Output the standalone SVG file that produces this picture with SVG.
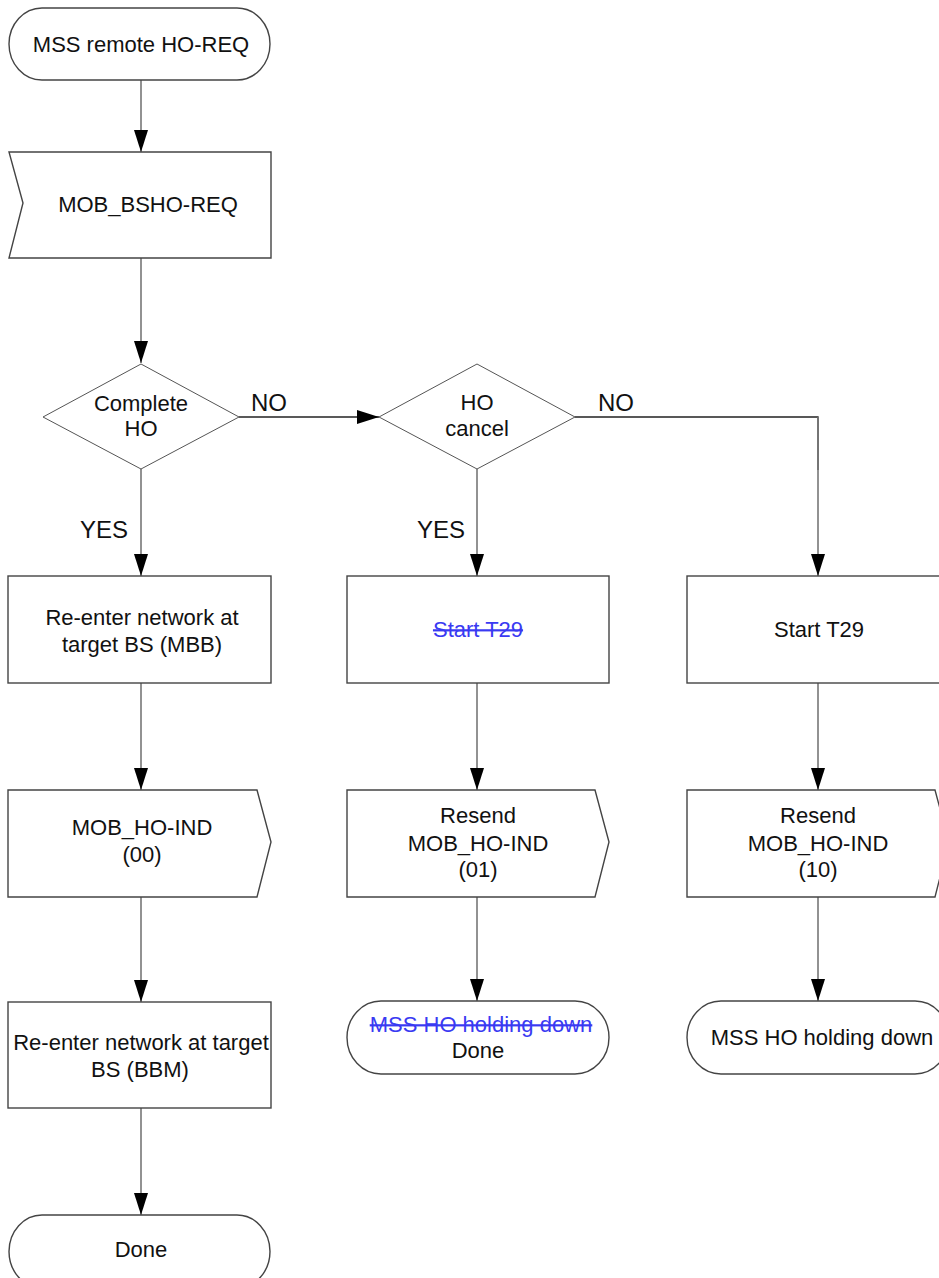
<svg xmlns="http://www.w3.org/2000/svg" width="939" height="1278" viewBox="0 0 939 1278">
<defs>
<style>
.shape{fill:#fff;stroke:#444;stroke-width:1.4}
.dia{fill:#fff;stroke:#555;stroke-width:1}
.conn{fill:none;stroke:#777;stroke-width:1.6}
.hconn{fill:none;stroke:#222;stroke-width:1.3}
text{font-family:"Liberation Sans",Arial,sans-serif;font-size:22px;fill:#111;text-anchor:middle}
.lbl{font-size:24px;text-anchor:start}
.del{fill:#3a3af2;text-decoration:line-through}
</style>
<marker id="ah" markerWidth="22" markerHeight="14" refX="22" refY="7" orient="auto" markerUnits="userSpaceOnUse">
<path d="M0,0 L22,7 L0,14 Z" fill="#000"/>
</marker>
</defs>
<rect width="939" height="1278" fill="#fff"/>

<g id="connectors">
<line class="conn" x1="141" y1="80" x2="141" y2="152" marker-end="url(#ah)"/>
<line class="conn" x1="141" y1="258" x2="141" y2="363" marker-end="url(#ah)"/>
<line class="hconn" x1="239" y1="417" x2="379" y2="417" marker-end="url(#ah)"/>
<polyline class="hconn" points="575,417 818,417 818,470"/>
<line class="conn" x1="818" y1="417" x2="818" y2="576" marker-end="url(#ah)"/>
<line class="conn" x1="141" y1="469" x2="141" y2="576" marker-end="url(#ah)"/>
<line class="conn" x1="477" y1="469" x2="477" y2="576" marker-end="url(#ah)"/>
<line class="conn" x1="141" y1="683" x2="141" y2="790" marker-end="url(#ah)"/>
<line class="conn" x1="477" y1="683" x2="477" y2="790" marker-end="url(#ah)"/>
<line class="conn" x1="818" y1="683" x2="818" y2="790" marker-end="url(#ah)"/>
<line class="conn" x1="141" y1="897" x2="141" y2="1002" marker-end="url(#ah)"/>
<line class="conn" x1="477" y1="897" x2="477" y2="1001" marker-end="url(#ah)"/>
<line class="conn" x1="818" y1="897" x2="818" y2="1001" marker-end="url(#ah)"/>
<line class="conn" x1="141" y1="1108" x2="141" y2="1215" marker-end="url(#ah)"/>
<text class="lbl" x="251" y="411">NO</text>
<text class="lbl" x="598" y="411">NO</text>
<text class="lbl" x="80" y="538">YES</text>
<text class="lbl" x="417" y="538">YES</text>
</g>

<g id="start">
<path class="shape" d="M42,8 H237 A33,36 0 0 1 270,44 A33,36 0 0 1 237,80 H42 A33,36 0 0 1 9,44 A33,36 0 0 1 42,8 Z"/>
<text x="141" y="52">MSS remote HO-REQ</text>
</g>

<g id="bsho-req">
<path class="shape" d="M9,152 H271 V258 H9 L23,203 Z"/>
<text x="148" y="212">MOB_BSHO-REQ</text>
</g>

<g id="complete-ho">
<polygon class="dia" points="141,364 239,417 141,469 43,417"/>
<text x="141" y="411">Complete</text>
<text x="141" y="436">HO</text>
</g>

<g id="ho-cancel">
<polygon class="dia" points="477,364 575,417 477,469 379,417"/>
<text x="477" y="410">HO</text>
<text x="477" y="436">cancel</text>
</g>

<g id="reenter-mbb">
<rect class="shape" x="8" y="576" width="263" height="107"/>
<text x="142" y="625">Re-enter network at</text>
<text x="142" y="652">target BS (MBB)</text>
</g>

<g id="start-t29-deleted">
<rect class="shape" x="347" y="576" width="262" height="107"/>
<text class="del" x="478" y="637">Start T29</text>
</g>

<g id="start-t29">
<rect class="shape" x="687" y="576" width="262" height="107"/>
<text x="819" y="637">Start T29</text>
</g>

<g id="ho-ind-00">
<path class="shape" d="M8,790 H257 L271,842 L257,897 H8 Z"/>
<text x="142" y="835">MOB_HO-IND</text>
<text x="142" y="862">(00)</text>
</g>

<g id="ho-ind-01">
<path class="shape" d="M347,790 H595 L609,842 L595,897 H347 Z"/>
<text x="478" y="823">Resend</text>
<text x="478" y="851">MOB_HO-IND</text>
<text x="478" y="877">(01)</text>
</g>

<g id="ho-ind-10">
<path class="shape" d="M687,790 H935 L949,842 L935,897 H687 Z"/>
<text x="818" y="823">Resend</text>
<text x="818" y="851">MOB_HO-IND</text>
<text x="818" y="877">(10)</text>
</g>

<g id="reenter-bbm">
<rect class="shape" x="8" y="1002" width="263" height="106"/>
<text x="141" y="1050">Re-enter network at target</text>
<text x="140" y="1077">BS (BBM)</text>
</g>

<g id="done-mid">
<path class="shape" d="M381,1001 H575 A34,36.5 0 0 1 609,1037.5 A34,36.5 0 0 1 575,1074 H381 A34,36.5 0 0 1 347,1037.5 A34,36.5 0 0 1 381,1001 Z"/>
<text class="del" x="481" y="1032">MSS HO holding down</text>
<text x="478" y="1058">Done</text>
</g>

<g id="holding-down">
<path class="shape" d="M721,1001 H915 A34,36.5 0 0 1 949,1037.5 A34,36.5 0 0 1 915,1074 H721 A34,36.5 0 0 1 687,1037.5 A34,36.5 0 0 1 721,1001 Z"/>
<text x="822" y="1045">MSS HO holding down</text>
</g>

<g id="done">
<path class="shape" d="M42,1215 H237 A33,36.5 0 0 1 270,1251.5 A33,36.5 0 0 1 237,1288 H42 A33,36.5 0 0 1 9,1251.5 A33,36.5 0 0 1 42,1215 Z"/>
<text x="141" y="1257">Done</text>
</g>
</svg>
